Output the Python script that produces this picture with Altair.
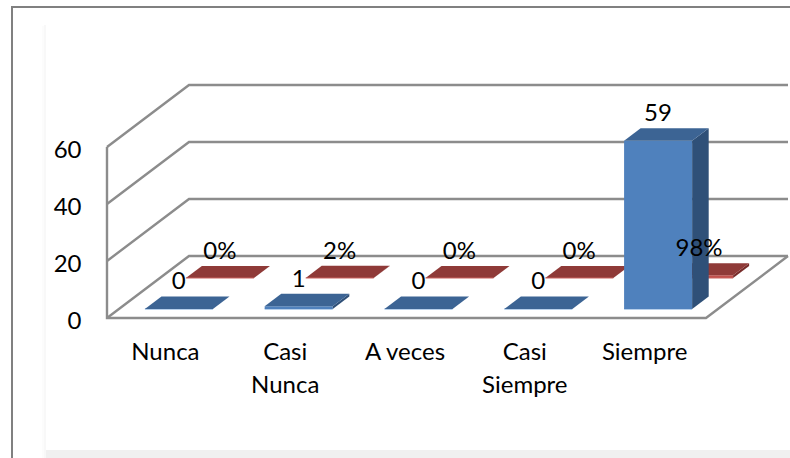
import json

import altair as alt
import pandas as pd

# Survey responses per answer category
categories = ["Nunca", ["Casi", "Nunca"], "A veces", ["Casi", "Siempre"], "Siempre"]
counts = [0, 1, 0, 0, 59]
percents = [0, 2, 0, 0, 98]
y_ticks = [0, 20, 40, 60]

WIDTH, HEIGHT = 790, 458
FONT = "Lato"
FONT_SIZE = 24

# Oblique projection: depth 0 is the front of the floor, depth 1 the back wall
UNIT_X = 119.8   # pixels per category
UNIT_Y = 2.85    # pixels per count
ORIGIN_X, ORIGIN_Y = 107, 318
DEPTH_X = 82 / UNIT_X
DEPTH_Y = 62 / UNIT_Y
BAR_LEFT, BAR_RIGHT = 0.217, 0.785
BLUE_DEPTH = (0.145, 0.347)
RED_DEPTH = (0.645, 0.84)

x_scale = alt.Scale(
    domain=[-ORIGIN_X / UNIT_X, (WIDTH - ORIGIN_X) / UNIT_X], range=[0, WIDTH], nice=False, zero=False
)
y_scale = alt.Scale(
    domain=[(ORIGIN_Y - HEIGHT) / UNIT_Y, ORIGIN_Y / UNIT_Y], range=[HEIGHT, 0], nice=False, zero=False
)

label_lookup = json.dumps(categories, ensure_ascii=False)

# Both axes sit inside the plot area, next to the 3D box
x_axis = alt.Axis(
    values=[i + 0.5 for i in range(len(categories))],
    labelExpr=f"{label_lookup}[floor(datum.value)]",
    orient="bottom",
    offset=-(HEIGHT - 340),
    domain=False,
    ticks=False,
    grid=False,
    tickSize=0,
    labelPadding=0,
    labelOffset=-2,
    labelFont=FONT,
    labelFontSize=FONT_SIZE,
    labelColor="#000000",
    labelLineHeight=33,
    labelOverlap=False,
    labelBaseline="top",
    title=None,
)
y_axis = alt.Axis(
    values=y_ticks,
    orient="left",
    offset=-81,
    domain=False,
    ticks=False,
    grid=False,
    tickSize=0,
    labelPadding=0,
    labelOffset=3,
    labelFont=FONT,
    labelFontSize=FONT_SIZE,
    labelColor="#000000",
    title=None,
)
X = alt.X("x:Q", scale=x_scale, axis=x_axis)
Y = alt.Y("y:Q", scale=y_scale, axis=y_axis)


def project(cat, depth, value):
    return cat + depth * DEPTH_X, value + depth * DEPTH_Y


def wall_lines():
    """Side-wall and back-wall lines for each gridline, plus the floor edge."""
    n = len(categories)
    rows = []
    for tick in y_ticks:
        for order, (cat, depth) in enumerate([(0, 0), (0, 1), (n, 1)]):
            x, y = project(cat, depth, tick)
            rows.append(dict(line=f"grid{tick}", order=order, x=x, y=y))
    for order, (cat, depth, value) in enumerate([(0, 0, y_ticks[-1]), (0, 0, 0), (n, 0, 0), (n, 1, 0)]):
        x, y = project(cat, depth, value)
        rows.append(dict(line="frame", order=order, x=x, y=y))
    return pd.DataFrame(rows)


def bar_faces(values, depths, series, top_color, front_color, side_color):
    """Area vertices for the front, top and side faces of one series."""
    rows = []
    t0, t1 = depths
    for i, value in enumerate(values):
        left, right = i + BAR_LEFT, i + BAR_RIGHT
        fx0, fy0 = project(left, t0, 0)
        fx1, _ = project(right, t0, 0)
        bx0, by0 = project(left, t1, 0)
        bx1, _ = project(right, t1, 0)

        def add(face, color, points):
            for x, low, high in points:
                rows.append(dict(face=f"{series}{i}{face}", color=color, x=x, y=low, y2=high))

        if value > 0:
            add("front", front_color, [(fx0, fy0, fy0 + value), (fx1, fy0, fy0 + value)])
        add("side", side_color, [(fx1, fy0, fy0 + value), (bx1, by0, by0 + value)])
        add(
            "top",
            top_color,
            [
                (fx0, fy0 + value, fy0 + value),
                (bx0, fy0 + value, by0 + value),
                (fx1, fy0 + value, by0 + value),
                (bx1, by0 + value, by0 + value),
            ],
        )
    return pd.DataFrame(rows)


def front_edges(depth, color):
    rows = []
    for i in range(len(categories)):
        for order, u in enumerate([BAR_LEFT, BAR_RIGHT]):
            x, y = project(i + u, depth, 0)
            rows.append(dict(edge=i, order=order, x=x, y=y, color=color))
    return pd.DataFrame(rows)


def bar_labels(values, texts, depths):
    rows = []
    for i, (value, text) in enumerate(zip(values, texts)):
        x, _ = project(i + 0.5, depths[0], 0)
        _, y = project(i + 0.5, depths[1], value)
        rows.append(dict(x=x, y=y, text=text))
    return pd.DataFrame(rows)


# Card outline and the soft shadow around the inner panel
def box(x, x2, y, y2, color):
    return (
        alt.Chart(pd.DataFrame({"k": [0]}))
        .mark_rect(color=color)
        .encode(x=alt.value(x), x2=alt.value(x2), y=alt.value(y), y2=alt.value(y2))
    )


panel = (
    box(42, 44, 26, 458, "#fcfcfc")
    + box(44, 46, 25, 458, "#f8f8f8")
    + box(46, WIDTH, 450, 458, "#f0f0f0")
    + box(11, 13, 6, 458, "#808080")
    + box(11, WIDTH, 6, 8, "#808080")
)

walls = (
    alt.Chart(wall_lines())
    .mark_line(color="#8c8c8c", strokeWidth=2.4, strokeJoin="miter")
    .encode(x=X, y=Y, detail="line:N", order="order:Q")
)


def faces_layer(df):
    return (
        alt.Chart(df)
        .mark_area(opacity=1)
        .encode(x=X, y=Y, y2="y2:Q", detail="face:N", color=alt.Color("color:N", scale=None))
    )


def edge_layer(df):
    return (
        alt.Chart(df)
        .mark_line(strokeWidth=1.2)
        .encode(x=X, y=Y, detail="edge:N", order="order:Q", color=alt.Color("color:N", scale=None))
    )


def label_layer(df):
    return (
        alt.Chart(df)
        .mark_text(font=FONT, fontSize=FONT_SIZE, color="#000000", dy=-14)
        .encode(x=X, y=Y, text="text:N")
    )


red_values = [p / 100 for p in percents]
red = faces_layer(bar_faces(red_values, RED_DEPTH, "pct", "#8f3a38", "#c0504d", "#772c2a"))
blue = faces_layer(bar_faces(counts, BLUE_DEPTH, "n", "#3c6494", "#4f81bd", "#2f5078"))

chart = (
    alt.layer(
        walls,
        panel,
        red,
        edge_layer(front_edges(RED_DEPTH[0], "#c9625f")),
        edge_layer(front_edges(BLUE_DEPTH[0], "#6f9fd8")),
        blue,
        label_layer(bar_labels(red_values, [f"{p}%" for p in percents], RED_DEPTH)),
        label_layer(bar_labels(counts, [str(c) for c in counts], BLUE_DEPTH)),
    )
    .resolve_scale(color="independent")
    .properties(
        width=WIDTH,
        height=HEIGHT,
        padding=0,
        autosize=alt.AutoSizeParams(type="none"),
        background="#ffffff",
    )
    .configure_view(stroke=None)
)

chart.save("out.html", embed_options={"renderer": "svg", "actions": False})
